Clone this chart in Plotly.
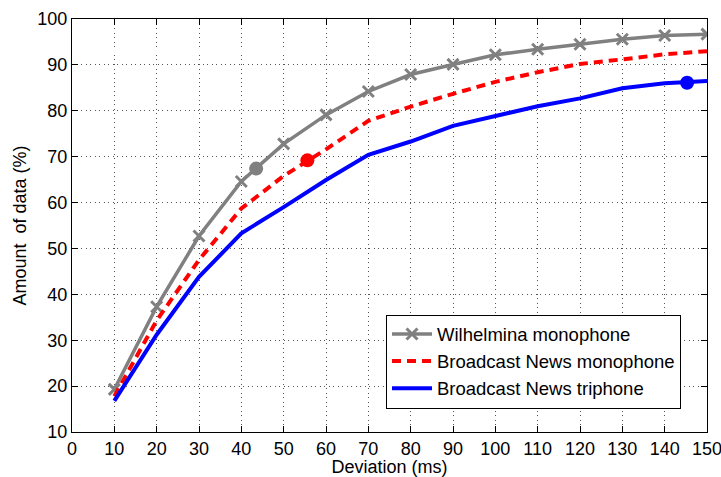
import plotly.graph_objects as go

deviation = [10, 20, 30, 40, 50, 60, 70, 80, 90, 100, 110, 120, 130, 140, 150]
wilhelmina_mono = [19.3, 37.3, 52.7, 64.6, 72.8, 79.1, 84.2, 87.9, 90.1, 92.2, 93.4, 94.5, 95.6, 96.4, 96.7]
bn_mono = [17.8, 34.3, 47.5, 58.7, 65.8, 71.6, 77.8, 80.9, 83.7, 86.3, 88.4, 90.2, 91.2, 92.3, 93.0]
bn_tri = [16.8, 31.2, 43.8, 53.3, 59.0, 64.9, 70.4, 73.3, 76.7, 78.9, 81.0, 82.7, 84.9, 86.0, 86.5]

# highlighted points (one per series)
hl_x = [43.5, 55.6, 145.3]
hl_y = [67.4, 69.2, 86.1]
hl_colors = ["#808080", "#ff0000", "#0000ff"]

series_names = ["Wilhelmina monophone", "Broadcast News monophone", "Broadcast News triphone"]

FONT = "Liberation Sans, Arial, sans-serif"

fig = go.Figure()
fig.add_trace(go.Scatter(
    x=deviation, y=wilhelmina_mono, name=series_names[0], mode="lines+markers",
    line=dict(color="#808080", width=3.5),
    marker=dict(symbol="x-thin", size=11, line=dict(color="#808080", width=3), color="#808080"),
))
fig.add_trace(go.Scatter(
    x=deviation, y=bn_mono, name=series_names[1], mode="lines",
    line=dict(color="#ff0000", width=4, dash="9px,6px"),
))
fig.add_trace(go.Scatter(
    x=deviation, y=bn_tri, name=series_names[2], mode="lines",
    line=dict(color="#0000ff", width=4),
))
for xv, yv, c in zip(hl_x, hl_y, hl_colors):
    fig.add_trace(go.Scatter(
        x=[xv], y=[yv], mode="markers", showlegend=False,
        marker=dict(symbol="circle", size=14, color=c),
    ))

axis_common = dict(
    showline=True, linecolor="black", linewidth=1, mirror="ticks",
    ticks="inside", ticklen=6, tickcolor="black", tickwidth=1,
    showgrid=True, gridcolor="#555555", gridwidth=1, griddash="1px,3.5px",
    zeroline=False, tickfont=dict(family=FONT, size=18, color="black"),
    dtick=10, ticklabeloverflow="allow", automargin=False,
)

fig.update_layout(
    width=721, height=477,
    margin=dict(l=72, r=14, t=19, b=45),
    paper_bgcolor="white", plot_bgcolor="white",
    font=dict(family=FONT, size=18, color="black"),
    xaxis=dict(range=[0, 150], tick0=0,
               title=dict(text="Deviation (ms)", font=dict(family=FONT, size=18), standoff=2),
               **axis_common),
    yaxis=dict(range=[10, 100], tick0=10,
               title=dict(text="Amount  of data (%)", font=dict(family=FONT, size=18), standoff=6),
               **axis_common),
    legend=dict(
        x=0.4945, y=0.1707, xanchor="left", yanchor="middle",
        bgcolor="white", bordercolor="black", borderwidth=1,
        font=dict(family=FONT, size=18.5, color="black"),
        itemwidth=40, tracegroupgap=0,
    ),
)

fig.write_html("out.html")
